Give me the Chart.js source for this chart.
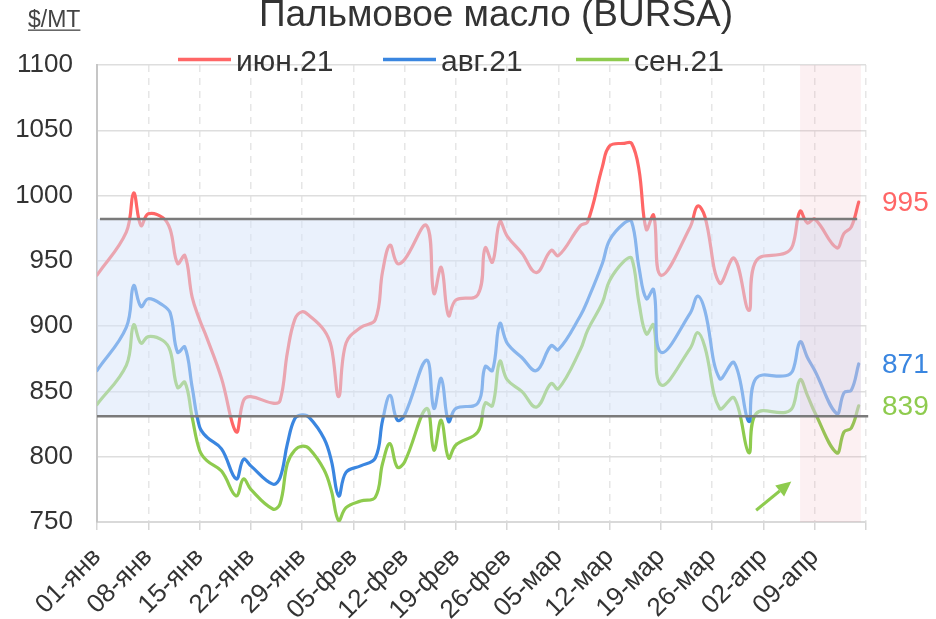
<!DOCTYPE html>
<html>
<head>
<meta charset="utf-8">
<script src="https://cdn.jsdelivr.net/npm/chart.js@4.4.1/dist/chart.umd.min.js"></script>
<style>
html,body{margin:0;padding:0;background:#fff;}
#wrap{width:936px;height:619px;}
</style>
</head>
<body>
<div id="wrap"><canvas id="chart" width="936" height="619"></canvas></div>
<script>
// day offsets from 01-янв
var days  = [0, 4, 5, 6, 7, 9, 10, 11, 12, 13, 14, 15, 17, 19, 20, 21, 24, 25, 26, 27, 28, 29, 31, 32, 33, 34, 36, 38, 39, 40, 41, 42, 45, 46, 47, 48, 49, 52, 53, 54, 55, 56, 58, 60, 62, 63, 66, 67, 69, 70, 72, 73, 74, 75, 76, 77, 81, 82, 83, 85, 87, 89, 90, 94, 95, 96, 97, 98, 101, 102, 103, 104];
var jun21 = [939, 972, 1002, 977, 986, 983, 974, 948, 954, 922, 905, 891, 860, 819, 843, 846, 841, 843, 880, 905, 911, 908, 897, 884, 846, 887, 899, 905, 942, 962, 948, 951, 977, 925, 945, 908, 920, 924, 960, 949, 980, 969, 956, 941, 958, 954, 977, 980, 1022, 1038, 1040, 1040, 1020, 974, 985, 939, 976, 992, 984, 933, 952, 912, 950, 956, 962, 988, 979, 982, 960, 971, 976, 995];
var aug21 = [866, 899, 931, 915, 921, 916, 910, 880, 884, 853, 823, 815, 806, 783, 798, 793, 779, 784, 810, 829, 832, 830, 814, 797, 770, 788, 793, 799, 828, 847, 828, 832, 874, 837, 860, 827, 837, 841, 869, 866, 902, 887, 876, 866, 885, 882, 908, 920, 948, 966, 979, 980, 945, 921, 928, 880, 910, 923, 912, 860, 872, 827, 860, 862, 866, 888, 876, 866, 833, 849, 851, 871];
var sep21 = [840, 870, 901, 887, 892, 889, 881, 853, 857, 830, 805, 797, 789, 770, 783, 775, 760, 764, 795, 805, 808, 806, 790, 774, 751, 761, 766, 769, 795, 810, 792, 796, 837, 805, 828, 799, 809, 819, 841, 839, 873, 859, 850, 838, 856, 852, 882, 897, 918, 935, 950, 952, 918, 894, 901, 855, 883, 895, 884, 837, 845, 803, 833, 834, 838, 859, 847, 834, 803, 819, 822, 839];
var weekLabels = ["01-янв", "08-янв", "15-янв", "22-янв", "29-янв", "05-фев", "12-фев", "19-фев", "26-фев", "05-мар", "12-мар", "19-мар", "26-мар", "02-апр", "09-апр"];
var seriesNames = ["июн.21", "авг.21", "сен.21"];
var seriesColors = ["#ff6666", "#3a86e0", "#8ecb4e"];

// trading range and recent period
var rangeLow = 831, rangeHigh = 982;
var focusFrom = 96, focusTo = 104.3;

var FONT = '"Liberation Sans", Arial, Helvetica, sans-serif';
Chart.defaults.font.family = FONT;
Chart.defaults.color = '#333';

function pts(vals) {
  return days.map(function (d, i) { return { x: d, y: vals[i] }; });
}

var overlays = {
  id: 'overlays',
  afterDatasetsDraw: function (chart) {
    var ctx = chart.ctx, xs = chart.scales.x, ys = chart.scales.y, a = chart.chartArea;
    var yHi = ys.getPixelForValue(rangeHigh), yLo = ys.getPixelForValue(rangeLow);
    var xEnd = xs.getPixelForValue(focusTo), xFoc = xs.getPixelForValue(focusFrom);
    ctx.save();
    ctx.fillStyle = 'rgba(214,228,249,0.5)';
    ctx.fillRect(a.left, yHi, xEnd - a.left, yLo - yHi);
    ctx.fillStyle = 'rgba(232,130,145,0.12)';
    ctx.fillRect(xFoc, a.top, xEnd - xFoc, a.bottom - a.top);
    ctx.strokeStyle = '#7a7a7a';
    ctx.lineWidth = 2.5;
    ctx.beginPath();
    ctx.moveTo(xs.getPixelForValue(0.4), yHi);
    ctx.lineTo(xs.getPixelForValue(103.8), yHi);
    ctx.moveTo(a.left, yLo);
    ctx.lineTo(xs.getPixelForValue(105.3), yLo);
    ctx.stroke();
    ctx.restore();
  },
  afterDraw: function (chart) {
    var ctx = chart.ctx, xs = chart.scales.x, ys = chart.scales.y, a = chart.chartArea;
    ctx.save();
    // title
    ctx.fillStyle = '#333';
    ctx.font = '37px ' + FONT;
    ctx.textAlign = 'center';
    ctx.textBaseline = 'alphabetic';
    ctx.fillText('Пальмовое масло (BURSA)', 496, 26);
    // unit label
    ctx.font = '23px ' + FONT;
    ctx.textAlign = 'left';
    ctx.fillStyle = '#444';
    ctx.fillText('$/MT', 28, 27);
    var w = ctx.measureText('$/MT').width;
    ctx.fillRect(28, 29.5, w, 1.3);
    // legend
    var lx = [178, 383, 576];
    ctx.font = '30px ' + FONT;
    for (var i = 0; i < 3; i++) {
      ctx.strokeStyle = seriesColors[i];
      ctx.lineWidth = 3.5;
      ctx.beginPath();
      ctx.moveTo(lx[i], 59.5);
      ctx.lineTo(lx[i] + 53, 59.5);
      ctx.stroke();
      ctx.fillStyle = '#333';
      ctx.fillText(seriesNames[i], lx[i] + 58, 71);
    }
    // last values
    var lasts = [jun21[jun21.length - 1], aug21[aug21.length - 1], sep21[sep21.length - 1]];
    ctx.font = '28px ' + FONT;
    ctx.textBaseline = 'middle';
    for (var j = 0; j < 3; j++) {
      ctx.fillStyle = seriesColors[j];
      ctx.fillText(String(lasts[j]), a.right + 16, ys.getPixelForValue(lasts[j]) + 1);
    }
    // arrow
    var x0 = xs.getPixelForValue(90), y0 = ys.getPixelForValue(759);
    var x1 = xs.getPixelForValue(94.8), y1 = ys.getPixelForValue(781);
    var ang = Math.atan2(y1 - y0, x1 - x0), hl = 15, hw = 7;
    ctx.strokeStyle = ctx.fillStyle = seriesColors[2];
    ctx.lineWidth = 3;
    ctx.beginPath();
    ctx.moveTo(x0, y0);
    ctx.lineTo(x1 - Math.cos(ang) * hl, y1 - Math.sin(ang) * hl);
    ctx.stroke();
    ctx.beginPath();
    ctx.moveTo(x1, y1);
    ctx.lineTo(x1 - Math.cos(ang) * hl - Math.sin(ang) * hw, y1 - Math.sin(ang) * hl + Math.cos(ang) * hw);
    ctx.lineTo(x1 - Math.cos(ang) * hl + Math.sin(ang) * hw, y1 - Math.sin(ang) * hl - Math.cos(ang) * hw);
    ctx.closePath();
    ctx.fill();
    ctx.restore();
  }
};

function ds(name, vals, color) {
  return {
    label: name,
    data: pts(vals),
    borderColor: color,
    backgroundColor: color,
    borderWidth: 3.2,
    pointRadius: 0,
    tension: 0.4,
    borderCapStyle: 'round',
    borderJoinStyle: 'round',
    fill: false
  };
}

new Chart(document.getElementById('chart').getContext('2d'), {
  type: 'line',
  data: {
    datasets: [
      ds(seriesNames[0], jun21, seriesColors[0]),
      ds(seriesNames[1], aug21, seriesColors[1]),
      ds(seriesNames[2], sep21, seriesColors[2])
    ]
  },
  options: {
    responsive: false,
    animation: false,
    layout: { padding: { top: 65, right: 70, left: 0, bottom: 0 } },
    plugins: { legend: { display: false }, tooltip: { enabled: false } },
    scales: {
      x: {
        type: 'linear',
        min: 0,
        max: 105,
        afterFit: function (s) { s.height = 97; },
        grid: {
          color: '#e6e6e6',
          lineWidth: 1.5,
          tickLength: 8,
          tickColor: '#d6d6d6',
          tickBorderDash: []
        },
        border: { display: true, color: '#d9d9d9', width: 2, dash: [7, 6] },
        ticks: {
          stepSize: 7,
          autoSkip: false,
          maxRotation: 45,
          minRotation: 45,
          padding: 12,
          color: '#333',
          font: { size: 26 },
          callback: function (v) { return weekLabels[v / 7] || ''; }
        }
      },
      y: {
        min: 750,
        max: 1100,
        afterFit: function (s) { s.width = 97; },
        grid: { color: '#dedede', lineWidth: 1.5, drawTicks: false },
        border: { display: true, color: '#c6c6c6', width: 2 },
        ticks: {
          stepSize: 50,
          padding: 24,
          color: '#333',
          font: { size: 26 },
          callback: function (v) { return String(v); }
        }
      }
    }
  },
  plugins: [overlays]
});
</script>
</body>
</html>
